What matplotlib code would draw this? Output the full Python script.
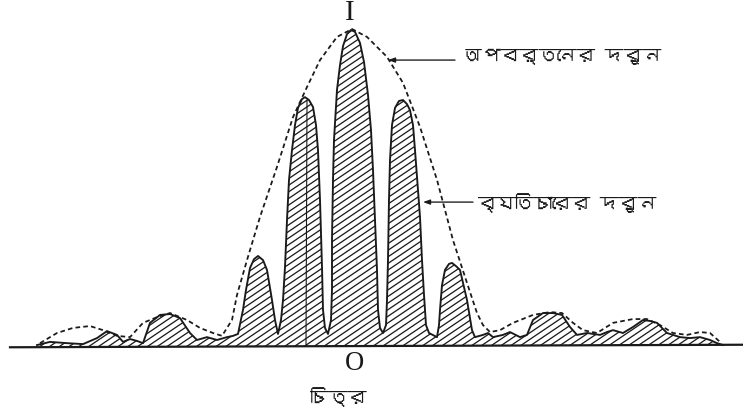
import numpy as np
import matplotlib
matplotlib.use("Agg")
import matplotlib.pyplot as plt
import matplotlib.font_manager as fm
from matplotlib.ft2font import FT2Font
from matplotlib.collections import LineCollection

# ---------------- data ----------------
# interference pattern (solid curve), x = position (O = 0), y = relative intensity (central max = 100)
interf_x = [-31.5, -30.2, -28.5, -26.9, -25.5, -24.5, -23.5, -22.9, -22.2, -21.5, -20.9,
            -20.2, -19.2, -18.2, -17.2, -16.2, -15.5, -14.5, -13.5, -12.5, -11.9,
            -11.4, -10.9, -10.6, -10.2, -9.8, -9.4, -8.9, -8.5, -8.0, -7.7,
            -7.4, -7.1, -6.9, -6.7, -6.5, -6.3, -6.0, -5.7, -5.4, -5.0, -4.7, -4.3, -3.9,
            -3.6, -3.4, -3.2, -3.0, -2.9, -2.7, -2.4,
            -2.1, -2.0, -2.0, -1.9, -1.8, -1.5, -1.2, -0.9, -0.5, -0.1, 0.3, 0.8, 1.2,
            1.6, 1.9, 2.1, 2.3, 2.5, 2.6, 2.8, 3.1,
            3.4, 3.5, 3.6, 3.7, 3.8, 4.0, 4.3, 4.7, 5.1, 5.5, 5.8, 6.1, 6.3, 6.6, 6.8,
            7.0, 7.2, 7.4, 7.7, 8.5,
            8.7, 8.8, 9.0, 9.3, 9.7, 10.0, 10.4, 10.8, 11.2, 11.5, 11.8, 12.0, 12.3,
            13.1, 13.6, 14.1, 15.1, 15.8, 16.8, 17.5, 18.1, 19.1, 20.1, 21.0, 21.8,
            22.5, 23.5, 24.8, 25.5, 26.1, 27.1, 28.1, 29.1, 29.8, 30.5, 31.5, 32.1,
            32.8, 33.8, 34.8, 35.8, 36.5, 37.1]
interf_y = [0.3, 1.3, 0.9, 0.6, 2.5, 4.7, 3.5, 1.3, 2.2, 1.6, 0.9,
            7.3, 9.8, 10.1, 8.8, 4.1, 1.9, 2.8, 1.9, 2.8, 3.2,
            3.8, 11.4, 17.7, 24.6, 27.4, 28.4, 27.1, 24.0, 14.5, 8.2,
            3.8, 8.2, 14.5, 24.9, 39.7, 52.4, 61.8, 69.7, 75.1, 77.9, 78.5, 77.6, 75.4,
            69.7, 61.8, 46.1, 24.9, 11.4, 5.7, 3.8,
            8.2, 17.7, 33.4, 52.4, 65.0, 80.8, 88.6, 94.6, 98.4, 99.7, 99.1, 95.6, 89.6,
            79.2, 68.1, 55.5, 39.7, 24.0, 11.4, 5.7, 4.1,
            6.6, 14.5, 27.1, 46.1, 58.7, 69.7, 75.1, 77.3, 77.6, 76.3, 74.4, 69.7, 61.8, 49.2, 40.7,
            27.1, 16.1, 6.6, 4.1, 2.8,
            6.6, 11.4, 19.2, 24.0, 25.9, 26.2, 25.2, 24.0, 18.6, 14.5, 8.8, 5.0, 2.8,
            3.5, 4.1, 2.8, 3.5, 4.4, 2.8, 3.5, 8.2, 10.4, 10.4, 9.8, 6.0,
            3.5, 4.1, 3.5, 4.4, 5.0, 4.1, 6.0, 8.2, 7.9, 7.3, 4.1, 3.5,
            2.8, 2.5, 2.8, 1.9, 0.9, 0.3]

# diffraction envelope (dashed curve)
diffr_x = [-31.2, -29.5, -27.9, -26.2, -24.9, -23.5, -22.2, -20.9, -19.5, -18.2, -16.5,
           -15.2, -13.9, -13.0, -12.0, -11.5, -10.5, -9.2, -7.5, -5.9, -4.5, -3.2, -1.5,
           0.0, 1.5, 3.5, 5.1, 6.8, 8.5, 10.1, 11.5, 12.5, 13.1, 13.8, 14.8, 16.1, 18.1,
           19.8, 21.0, 22.1, 23.1, 24.5, 26.1, 28.1, 29.5, 30.8, 32.1, 33.5, 34.8, 35.8, 36.8]
diffr_y = [0.9, 4.1, 5.7, 6.3, 5.0, 3.2, 2.8, 7.3, 9.1, 10.4, 8.2,
           5.7, 4.1, 3.2, 8.2, 16.1, 27.1, 40.7, 56.5, 72.2, 81.7, 90.2, 97.5,
           100.0, 97.5, 91.2, 83.0, 69.1, 52.4, 33.4, 19.9, 10.4, 6.6, 4.4, 5.0, 7.3, 9.8,
           10.7, 10.4, 7.3, 5.0, 4.1, 7.3, 8.5, 8.5, 6.6, 4.1, 3.5, 4.4, 4.1, 1.3]

label_top = "I"
label_origin = "O"
label_diffraction = "অপবর্তনের দরুন"
label_interference = "ব্যতিচারের দরুন"
caption = "চিত্র"

# ---------------- fonts ----------------
def find_font(codepoints):
    for f in fm.fontManager.ttflist:
        try:
            cmap = FT2Font(f.fname).get_charmap()
        except Exception:
            continue
        if all(c in cmap for c in codepoints):
            return f.name
    return None

beng_font = find_font([0x0985, 0x09AA, 0x09CD, 0x09C7])
beng_family = [beng_font, "DejaVu Sans"] if beng_font else ["DejaVu Sans"]

ink = "#1a1a1a"

W, H, DPI = 743, 416, 80
fig = plt.figure(figsize=(W / DPI, H / DPI), dpi=DPI)
ax = fig.add_axes([0, 0, 1, 1])
ax.set_xlim(-35.2, 39.1)
ax.set_ylim(-22.08, 109.15)
ax.axis("off")

# region under the interference curve (invisible; used as clip for the hatching)
fill = ax.fill_between(interf_x, 0, interf_y, facecolor="none", edgecolor="none",
                       linewidth=0)

# custom hatching: slanted strokes (~34 deg) clipped to the region
ang = np.deg2rad(34)
step_v = 6.6 / H              # vertical spacing in axes fraction
slope = np.tan(ang) * W / H   # slope in axes-fraction units
segs = []
for c in np.arange(-slope - 0.2, 1.2, step_v):
    segs.append([(0, c), (1, c + slope)])
hatch = LineCollection(segs, colors=ink, linewidths=1.15, transform=ax.transAxes)
ax.add_collection(hatch)
hatch.set_clip_path(fill.get_paths()[0], transform=ax.transData)

ax.plot(interf_x, interf_y, color=ink, lw=1.7, solid_joinstyle="round")

# diffraction envelope
ax.plot(diffr_x, diffr_y, color=ink, lw=1.6, linestyle=(0, (2.6, 1.8)))

# baseline
ax.plot([-34.2, 39.1], [-0.4, 0.4], color=ink, lw=2.0)

# construction line through a fringe
ax.plot([-4.6, -4.5], [0, 77.5], color=ink, lw=1.0)

# labels
ax.text(-0.2, 105.0, label_top, family="Liberation Serif", fontsize=26,
        ha="center", va="center", color=ink)
ax.text(0.2, -5.4, label_origin, family="Liberation Serif", fontsize=24,
        ha="center", va="center", color=ink)
ax.text(-1.4, -16.1, caption, family=beng_family, fontsize=17,
        ha="center", va="center", color=ink)

ax.annotate("", xy=(3.6, 90.2), xytext=(10.3, 90.2),
            arrowprops=dict(arrowstyle="-|>,head_length=0.5,head_width=0.18",
                            color=ink, lw=1.2, shrinkA=0, shrinkB=0))
ax.text(11.1, 91.2, label_diffraction, family=beng_family, fontsize=17,
        ha="left", va="center", color=ink)

ax.annotate("", xy=(7.1, 45.4), xytext=(12.1, 45.4),
            arrowprops=dict(arrowstyle="-|>,head_length=0.5,head_width=0.18",
                            color=ink, lw=1.2, shrinkA=0, shrinkB=0))
ax.text(12.5, 45.1, label_interference, family=beng_family, fontsize=17,
        ha="left", va="center", color=ink)

fig.savefig("out.png", dpi=DPI, facecolor="white")
